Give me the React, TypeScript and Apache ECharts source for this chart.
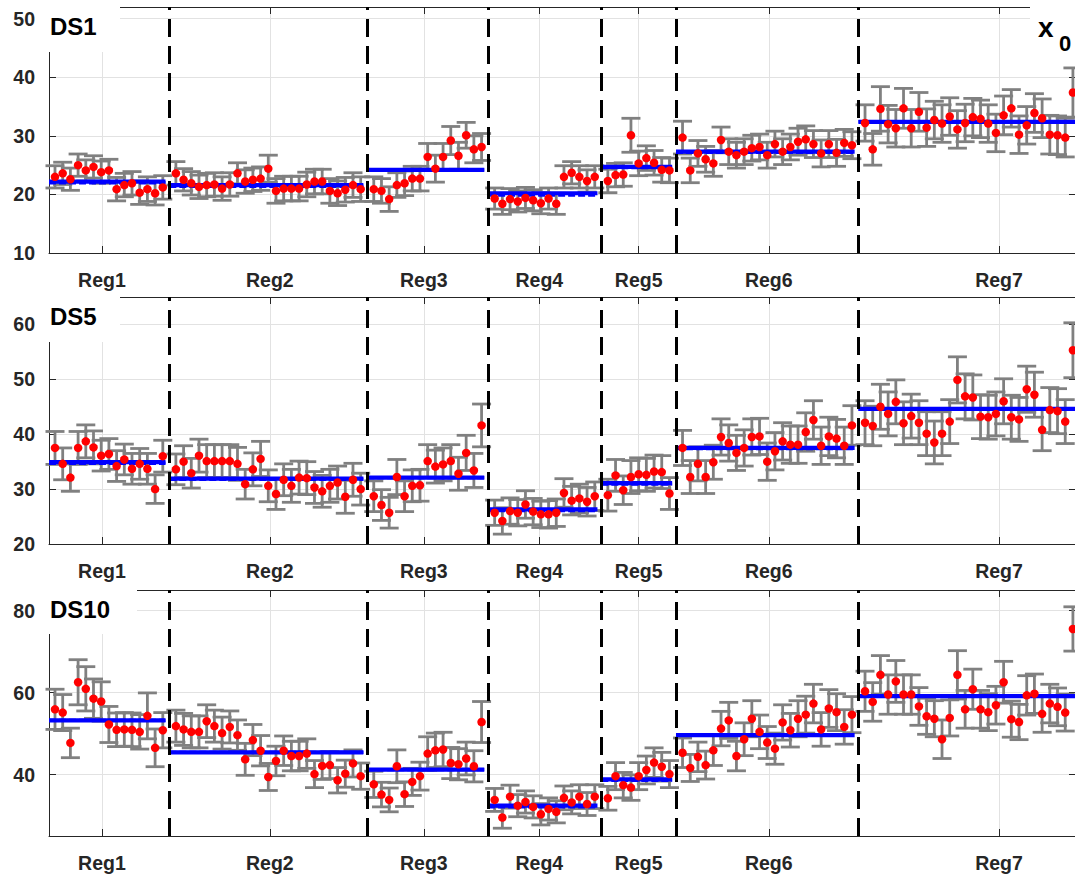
import React, { useEffect, useRef } from 'react';
import * as echarts from 'echarts';

// ---------------- data ----------------
const regionNames = ['Reg1', 'Reg2', 'Reg3', 'Reg4', 'Reg5', 'Reg6', 'Reg7'];
const regionCounts = [15, 25, 15, 14, 9, 23, 28];
const regionGap = 1.7; // step between last sample of a region and first of the next
const regionTicks = [7.1, 28.9, 48.9, 63.9, 76.8, 93.7, 123.6];
const xMin = 0.221;
const xMax = 133.6;

const ds1Values = [
  23.0, 23.6, 22.6, 25.0, 24.1, 24.7, 23.8, 24.1, 20.9, 21.6, 21.9, 20.3, 20.9, 20.2, 21.2,
  23.6, 22.5, 21.9, 21.3, 21.6, 21.7, 21.0, 21.7, 23.6, 22.2, 22.5, 22.7, 24.4, 20.6, 21.0, 21.0, 21.0, 21.7, 22.2, 22.2, 20.6, 20.2, 20.8, 21.6, 20.9,
  20.9, 20.6, 19.2, 21.6, 21.9, 22.7, 22.7, 26.4, 24.4, 26.4, 29.2, 26.6, 30.1, 27.7, 28.1,
  19.3, 18.4, 19.2, 18.8, 19.4, 19.0, 18.5, 19.3, 18.4, 23.0, 23.7, 23.0, 22.3, 23.0,
  22.3, 23.3, 23.4, 30.1, 25.3, 26.2, 25.4, 24.2, 24.1,
  29.7, 24.1, 27.0, 26.0, 25.3, 29.3, 27.3, 26.7, 27.3, 27.9, 28.1, 26.7, 28.6, 27.3, 28.1, 29.0, 29.4, 28.6, 27.0, 28.6, 27.1, 28.8, 28.4,
  32.2, 27.7, 34.6, 32.0, 31.3, 34.7, 31.3, 34.1, 31.4, 32.7, 32.1, 33.3, 31.1, 32.2, 33.2, 32.9, 32.1, 30.5, 33.5, 34.7, 30.2, 31.8, 33.9, 33.0, 30.2, 30.1, 29.7, 37.4,
];
const ds1Errors = [
  1.9, 1.9, 1.9, 1.9, 1.8, 1.9, 1.9, 1.9, 2.0, 2.0, 2.0, 2.0, 2.1, 2.0, 2.0,
  2.0, 1.9, 2.0, 2.0, 2.0, 2.0, 2.0, 2.0, 1.8, 2.0, 2.0, 2.0, 2.3, 2.1, 2.1, 2.1, 2.1, 2.1, 2.1, 2.1, 2.1, 2.1, 2.1, 2.1, 2.1,
  2.1, 2.1, 2.1, 2.1, 2.1, 2.1, 2.1, 2.3, 2.3, 2.3, 2.4, 2.3, 2.2, 2.3, 2.3,
  1.8, 1.8, 1.8, 1.8, 1.8, 1.8, 1.8, 1.8, 1.8, 1.9, 1.9, 1.9, 1.9, 1.9,
  2.0, 2.0, 2.0, 2.9, 2.1, 2.1, 2.1, 2.1, 2.1,
  2.8, 2.1, 2.2, 2.2, 2.2, 2.2, 2.2, 2.2, 2.2, 2.2, 2.2, 2.2, 2.2, 2.2, 2.2, 2.3, 2.3, 2.3, 2.3, 2.3, 2.3, 2.3, 2.3,
  3.1, 2.7, 3.8, 3.2, 3.2, 3.4, 3.2, 3.3, 3.2, 3.2, 3.2, 3.2, 3.2, 3.2, 3.2, 3.2, 3.2, 3.2, 3.3, 3.2, 3.2, 3.2, 3.3, 3.3, 3.3, 3.3, 3.3, 4.2,
];
const ds1LevelSolid = [22.2, 21.6, 24.2, 20.2, 24.7, 27.3, 32.4];
const ds1LevelDashed = [22.0, 21.4, 24.2, 19.9, 24.6, 27.2, 32.4];

const ds5Values = [
  37.5, 34.6, 32.1, 37.5, 38.7, 37.6, 36.1, 36.4, 34.2, 35.4, 33.7, 34.6, 33.7, 30.0, 36.0,
  33.6, 35.0, 32.9, 36.1, 35.1, 35.1, 35.1, 35.1, 34.6, 30.9, 33.6, 35.5, 30.6, 29.1, 31.7, 30.6, 32.1, 32.0, 30.3, 29.6, 30.6, 31.2, 28.6, 31.7, 30.0,
  28.7, 27.1, 25.7, 32.2, 28.7, 30.6, 30.7, 35.1, 34.1, 34.5, 35.1, 32.8, 36.6, 33.4, 41.6,
  25.7, 24.2, 26.0, 25.7, 27.2, 25.9, 25.4, 25.4, 25.7, 29.3, 27.9, 28.3, 27.7, 28.7,
  28.9, 32.5, 29.8, 32.2, 32.7, 32.6, 33.2, 33.1, 29.2,
  37.5, 32.2, 34.6, 32.2, 34.9, 39.5, 38.4, 36.6, 37.5, 39.5, 39.6, 35.0, 36.9, 38.7, 38.1, 38.1, 40.4, 42.6, 37.9, 39.6, 39.2, 37.9, 41.6,
  42.1, 41.5, 45.0, 43.7, 45.9, 42.0, 43.3, 42.1, 40.1, 38.5, 40.1, 42.3, 49.9, 46.9, 46.7, 43.2, 43.1, 43.7, 46.0, 43.1, 42.7, 48.2, 47.2, 40.8, 44.4, 44.2, 42.3, 55.3,
];
const ds5Errors = [
  3.0, 2.9, 2.5, 3.0, 3.0, 3.0, 2.8, 2.8, 2.8, 2.8, 2.8, 2.8, 2.8, 2.6, 2.9,
  2.8, 2.9, 2.7, 3.0, 3.0, 3.0, 3.0, 3.0, 3.0, 2.7, 3.0, 3.2, 2.9, 2.8, 2.9, 3.0, 3.0, 3.0, 2.9, 2.9, 3.0, 3.0, 3.0, 3.0, 2.9,
  2.8, 2.8, 2.8, 3.2, 2.8, 2.9, 2.9, 3.0, 3.0, 3.0, 3.0, 3.0, 3.2, 3.1, 3.9,
  2.3, 2.4, 2.4, 2.4, 2.5, 2.4, 2.4, 2.5, 2.5, 2.6, 2.6, 2.6, 2.6, 2.6,
  2.9, 2.9, 2.6, 3.0, 3.0, 3.0, 3.0, 3.0, 2.9,
  3.2, 3.0, 3.1, 3.0, 3.1, 3.3, 3.3, 3.2, 3.3, 3.3, 3.3, 3.4, 3.4, 3.4, 3.4, 3.4, 3.5, 3.5, 3.4, 3.5, 3.5, 3.4, 3.6,
  4.0, 3.6, 4.1, 4.0, 4.0, 3.9, 4.0, 4.0, 4.0, 3.9, 4.0, 4.0, 4.2, 4.1, 4.1, 4.0, 4.0, 4.0, 4.1, 4.0, 4.0, 4.2, 4.1, 3.8, 4.1, 4.1, 4.0, 5.0,
];
const ds5LevelSolid = [34.9, 31.9, 32.1, 26.3, 31.1, 37.5, 44.6];
const ds5LevelDashed = [34.7, 31.8, 32.1, 26.1, 30.9, 37.4, 44.6];

const ds10Values = [
  55.9, 55.1, 47.7, 62.5, 60.9, 58.5, 57.8, 52.2, 50.9, 51.0, 50.9, 50.4, 54.3, 46.5, 50.8,
  51.8, 51.0, 50.4, 50.4, 53.0, 51.8, 50.1, 51.6, 49.6, 43.7, 48.4, 45.8, 39.4, 43.3, 45.8, 44.5, 44.5, 45.1, 40.1, 42.1, 42.3, 38.6, 40.2, 42.7, 39.6,
  37.6, 35.1, 33.8, 42.0, 35.2, 38.2, 39.6, 45.1, 45.9, 46.1, 42.8, 42.5, 43.9, 42.0, 52.8,
  33.8, 29.5, 34.6, 32.4, 33.3, 32.1, 30.3, 31.6, 30.9, 34.3, 33.2, 34.6, 32.8, 34.6,
  34.2, 39.6, 37.4, 36.8, 39.6, 41.1, 42.9, 41.9, 40.1,
  45.3, 41.6, 44.3, 42.3, 45.9, 51.2, 53.2, 44.5, 48.6, 53.6, 50.4, 47.8, 46.3, 52.7, 50.8, 53.6, 54.6, 57.3, 51.0, 56.1, 55.2, 51.6, 54.6,
  60.3, 57.7, 64.3, 59.5, 62.7, 59.5, 59.5, 56.6, 54.2, 53.6, 48.6, 53.8, 64.3, 55.9, 60.8, 55.9, 55.2, 56.9, 62.5, 53.5, 52.8, 59.3, 59.7, 54.8, 57.3, 56.5, 55.1, 75.5,
];
const ds10Errors = [
  4.9, 4.4, 3.6, 5.5, 5.4, 4.8, 4.8, 4.4, 4.1, 4.1, 4.1, 4.2, 5.6, 4.6, 4.3,
  3.9, 3.9, 3.9, 3.9, 4.0, 3.9, 3.9, 3.9, 3.7, 3.9, 3.8, 3.7, 3.3, 3.6, 3.6, 3.6, 3.6, 3.6, 3.3, 3.3, 3.3, 3.1, 3.3, 3.3, 3.2,
  3.2, 3.0, 2.9, 4.0, 3.0, 3.3, 3.4, 4.1, 4.2, 4.2, 3.8, 3.8, 4.0, 3.8, 5.0,
  2.8, 2.6, 2.8, 2.7, 2.7, 2.7, 2.6, 2.7, 2.7, 2.9, 2.8, 2.9, 2.8, 2.9,
  2.9, 3.3, 3.1, 3.1, 3.3, 3.4, 3.6, 3.5, 3.3,
  3.6, 3.3, 3.6, 3.4, 3.7, 4.2, 4.4, 3.6, 4.0, 4.4, 4.1, 3.9, 3.8, 4.3, 4.1, 4.4, 4.5, 4.7, 4.1, 4.6, 4.5, 4.2, 4.4,
  4.9, 4.7, 4.7, 4.8, 5.1, 4.8, 4.8, 4.6, 4.4, 4.4, 4.7, 4.4, 5.9, 4.6, 4.9, 4.6, 4.5, 4.6, 5.1, 4.4, 4.3, 4.8, 4.8, 4.5, 4.7, 4.6, 4.5, 5.4,
];
const ds10LevelSolid = [53.2, 45.4, 41.2, 32.4, 38.8, 49.6, 59.1];
const ds10LevelDashed = [53.2, 45.4, 41.2, 32.1, 38.6, 49.6, 59.1];

const ds1YTicks = [10, 20, 30, 40, 50];
const ds5YTicks = [20, 30, 40, 50, 60];
const ds10YTicks = [40, 60, 80];

// ---------------- derived sample positions ----------------
const sampleX: number[] = [];
const regionLast: number[] = [];
{
  let x = 1;
  regionCounts.forEach((n) => {
    for (let j = 0; j < n; j++) {
      sampleX.push(x);
      if (j < n - 1) x += 1;
    }
    regionLast.push(x);
    x += regionGap;
  });
}
const boundaries = regionLast.slice(0, -1).map((l) => l + regionGap / 2);

// ---------------- styling ----------------
const FONT = "'Liberation Sans', Arial, Helvetica, sans-serif";
const AXIS_COLOR = '#262626';
const GRID_COLOR = '#e2e2e2';
const ERR_COLOR = '#808080';

const panels = [
  { name: 'DS1', values: ds1Values, errors: ds1Errors, solid: ds1LevelSolid, dashed: ds1LevelDashed, min: 10, max: 52, yTicks: ds1YTicks, top: 7, height: 246, boxY: 0, boxH: 52, boxW: 80, labelY: 26.5 },
  { name: 'DS5', values: ds5Values, errors: ds5Errors, solid: ds5LevelSolid, dashed: ds5LevelDashed, min: 20, max: 65, yTicks: ds5YTicks, top: 297, height: 247, boxY: 291, boxH: 51, boxW: 80, labelY: 316 },
  { name: 'DS10', values: ds10Values, errors: ds10Errors, solid: ds10LevelSolid, dashed: ds10LevelDashed, min: 25, max: 85, yTicks: ds10YTicks, top: 590, height: 246, boxY: 584, boxH: 50, boxW: 97, labelY: 609 },
];

function regionLabel(v: number): string {
  const i = regionTicks.findIndex((t) => Math.abs(t - v) < 1e-6);
  return i >= 0 ? regionNames[i] : '';
}

const errRender = (_params: any, api: any) => {
  const x = api.value(0);
  const y = api.value(1);
  const e = api.value(2);
  const p1 = api.coord([x, y + e]);
  const p2 = api.coord([x, y - e]);
  const hw = 9.5;
  const style = { stroke: ERR_COLOR, lineWidth: 2.8 };
  return {
    type: 'group',
    children: [
      { type: 'line', shape: { x1: p1[0], y1: p1[1], x2: p2[0], y2: p2[1] }, style },
      { type: 'line', shape: { x1: p1[0] - hw, y1: p1[1], x2: p1[0] + hw, y2: p1[1] }, style },
      { type: 'line', shape: { x1: p2[0] - hw, y1: p2[1], x2: p2[0] + hw, y2: p2[1] }, style },
    ],
  };
};

const levelRender = (_params: any, api: any) => {
  const a = api.coord([api.value(0), api.value(2)]);
  const b = api.coord([api.value(1), api.value(2)]);
  const c = api.coord([api.value(0), api.value(3)]);
  const d = api.coord([api.value(1), api.value(3)]);
  return {
    type: 'group',
    children: [
      { type: 'line', shape: { x1: a[0], y1: a[1], x2: b[0], y2: b[1] }, style: { stroke: '#0000ff', lineWidth: 4.2 } },
      { type: 'line', shape: { x1: c[0], y1: c[1], x2: d[0], y2: d[1] }, style: { stroke: '#0000ff', lineWidth: 3.4, lineDash: [7, 3] } },
    ],
  };
};

function buildOption() {
  const grid: any[] = [];
  const xAxis: any[] = [];
  const yAxis: any[] = [];
  const series: any[] = [];
  const graphic: any[] = [];

  panels.forEach((p, i) => {
    grid.push({ left: 49, top: p.top, width: 1027, height: p.height, containLabel: false });

    xAxis.push({
      type: 'value', gridIndex: i, min: xMin, max: xMax, position: 'bottom',
      axisLine: { show: true, onZero: false, lineStyle: { color: AXIS_COLOR, width: 1 } },
      axisTick: { show: true, inside: true, length: 7, customValues: regionTicks, lineStyle: { color: AXIS_COLOR } },
      axisLabel: {
        show: true, customValues: regionTicks, formatter: (v: number) => regionLabel(v), margin: 17,
        color: AXIS_COLOR, fontSize: 19.5, fontWeight: 'bold', fontFamily: FONT,
      },
      splitLine: { show: true, lineStyle: { color: GRID_COLOR, width: 1 } },
    });
    xAxis.push({
      type: 'value', gridIndex: i, min: xMin, max: xMax, position: 'top',
      axisLine: { show: true, onZero: false, lineStyle: { color: AXIS_COLOR, width: 1 } },
      axisTick: { show: true, inside: true, length: 7, customValues: regionTicks, lineStyle: { color: AXIS_COLOR } },
      axisLabel: { show: false },
      splitLine: { show: false },
    });
    yAxis.push({
      type: 'value', gridIndex: i, min: p.min, max: p.max, position: 'left',
      axisLine: { show: true, onZero: false, lineStyle: { color: AXIS_COLOR, width: 1 } },
      axisTick: { show: true, inside: true, length: 7, customValues: p.yTicks, lineStyle: { color: AXIS_COLOR } },
      axisLabel: {
        show: true, customValues: p.yTicks, margin: 14,
        color: AXIS_COLOR, fontSize: 19.5, fontWeight: 'bold', fontFamily: FONT,
      },
      splitLine: { show: true, lineStyle: { color: GRID_COLOR, width: 1 } },
    });
    yAxis.push({
      type: 'value', gridIndex: i, min: p.min, max: p.max, position: 'right',
      axisLine: { show: true, onZero: false, lineStyle: { color: AXIS_COLOR, width: 1 } },
      axisTick: { show: true, inside: true, length: 7, customValues: p.yTicks, lineStyle: { color: AXIS_COLOR } },
      axisLabel: { show: false },
      splitLine: { show: false },
    });

    const xi = i * 2;
    const yi = i * 2;

    series.push({
      type: 'custom', name: p.name + ' error', xAxisIndex: xi, yAxisIndex: yi,
      renderItem: errRender, encode: { x: 0, y: 1 }, z: 2, silent: true,
      data: sampleX.map((x, k) => [x, p.values[k], p.errors[k]]),
    });
    series.push({
      type: 'custom', name: p.name + ' level', xAxisIndex: xi, yAxisIndex: yi,
      renderItem: levelRender, encode: { x: [0, 1], y: [2, 3] }, z: 3, silent: true,
      data: regionNames.map((_, r) => [r === 0 ? xMin : boundaries[r - 1], regionLast[r] + 0.35, p.solid[r], p.dashed[r]]),
    });
    series.push({
      type: 'scatter', name: p.name, xAxisIndex: xi, yAxisIndex: yi, z: 4, silent: true,
      symbol: 'circle', symbolSize: 8.5, itemStyle: { color: '#ff0000', opacity: 1 },
      data: sampleX.map((x, k) => [x, p.values[k]]),
      markLine: {
        silent: true, symbol: ['none', 'none'], label: { show: false }, animation: false,
        lineStyle: { color: '#000000', width: 3, type: [18, 9] },
        emphasis: { disabled: true },
        data: boundaries.map((b) => ({ xAxis: b })),
      },
    });

    graphic.push({ type: 'rect', z: 100, shape: { x: 40, y: p.boxY, width: p.boxW, height: p.boxH }, style: { fill: '#ffffff' } });
    graphic.push({
      type: 'text', z: 101, x: 50, y: p.labelY,
      style: { text: p.name, fill: '#000000', font: `bold 24px ${FONT}`, textAlign: 'left', textVerticalAlign: 'middle', verticalAlign: 'middle' },
    });
  });

  graphic.push({ type: 'rect', z: 100, shape: { x: 1030, y: 0, width: 50, height: 55 }, style: { fill: '#ffffff' } });
  graphic.push({
    type: 'text', z: 101, x: 1038, y: 27,
    style: { text: 'x', fill: '#000000', font: `bold 28px ${FONT}`, textAlign: 'left', textVerticalAlign: 'middle', verticalAlign: 'middle' },
  });
  graphic.push({
    type: 'text', z: 101, x: 1059, y: 43,
    style: { text: '0', fill: '#000000', font: `bold 22px ${FONT}`, textAlign: 'left', textVerticalAlign: 'middle', verticalAlign: 'middle' },
  });

  return { animation: false, backgroundColor: '#ffffff', grid, xAxis, yAxis, series, graphic };
}

export default function App() {
  const ref = useRef<HTMLDivElement>(null);
  useEffect(() => {
    if (!ref.current) return;
    const chart = echarts.init(ref.current, null, { renderer: 'svg' });
    chart.setOption(buildOption() as any);
    return () => chart.dispose();
  }, []);
  return (
    <div
      ref={ref}
      style={{ position: 'fixed', left: 0, top: 0, width: 1080, height: 879, background: '#ffffff' }}
    />
  );
}
